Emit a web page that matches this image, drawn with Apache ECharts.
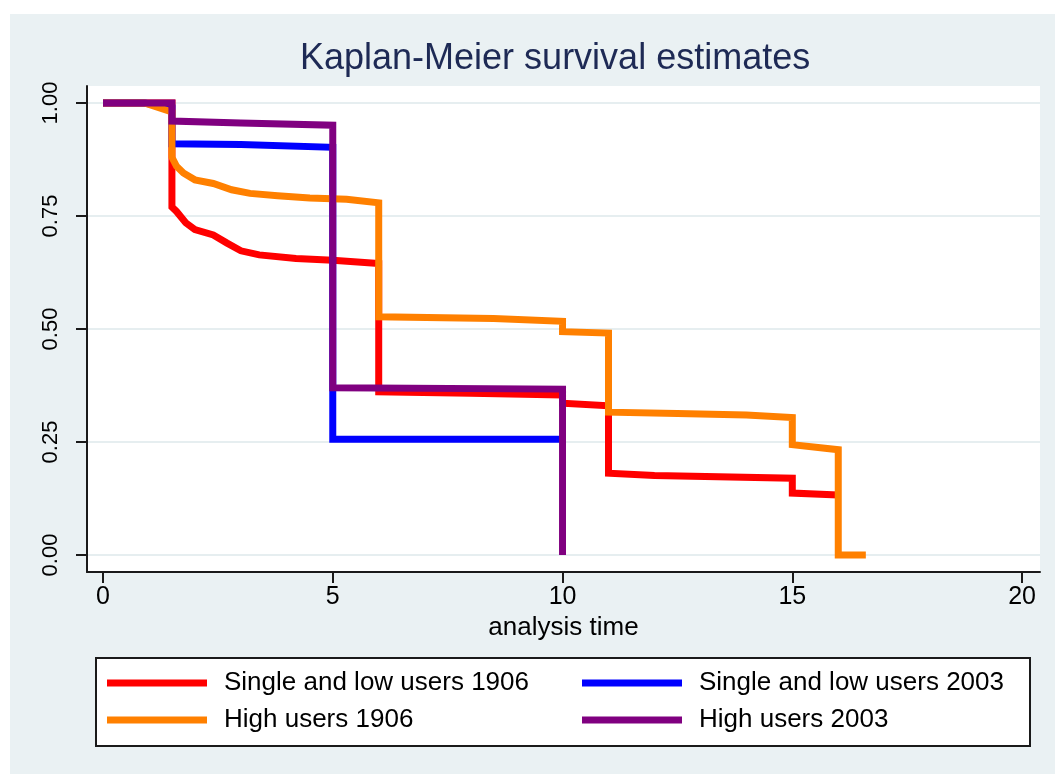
<!DOCTYPE html>
<html>
<head>
<meta charset="utf-8">
<script src="https://cdn.jsdelivr.net/npm/echarts@6/dist/echarts.min.js"></script>
<style>
html,body{margin:0;padding:0;background:#fff;}
#chart{width:1055px;height:774px;}
</style>
</head>
<body>
<div id="chart"></div>
<script>
const titleText = 'Kaplan-Meier survival estimates';
const xName = 'analysis time';
const xTicks = [0, 5, 10, 15, 20];
const yTicks = [0, 0.25, 0.5, 0.75, 1];
const seriesNames = ['Single and low users 1906', 'High users 1906', 'Single and low users 2003', 'High users 2003'];

// [time, survival] path points; a jump is two points at the same time
const singleLow1906 = [[0,1.0],[1.5,1.0],[1.5,0.77],[1.6,0.76],[1.8,0.735],[2.0,0.72],[2.4,0.708],[2.7,0.69],[3.0,0.673],[3.4,0.664],[4.2,0.656],[5.0,0.652],[6.0,0.645],[6.0,0.361],[8.0,0.358],[10.0,0.354],[10.0,0.336],[11.0,0.33],[11.0,0.181],[12.0,0.176],[15.0,0.17],[15.0,0.137],[16.0,0.133]];
const high1906 = [[0,1.0],[0.9,1.0],[1.5,0.98],[1.5,0.88],[1.6,0.86],[1.75,0.845],[2.0,0.83],[2.4,0.822],[2.8,0.808],[3.2,0.80],[3.8,0.795],[4.5,0.79],[5.3,0.787],[6.0,0.779],[6.0,0.527],[8.5,0.523],[10.0,0.517],[10.0,0.494],[11.0,0.491],[11.0,0.316],[12.5,0.313],[14.0,0.31],[15.0,0.304],[15.0,0.244],[16.0,0.233],[16.0,0.0],[16.6,0.0]];
const singleLow2003 = [[0,1.0],[0.9,1.0],[1.5,0.99],[1.5,0.91],[3.0,0.908],[5.0,0.902],[5.0,0.256],[10.0,0.256]];
const high2003 = [[0,1.0],[1.5,1.0],[1.5,0.96],[3.0,0.956],[5.0,0.951],[5.0,0.37],[10.0,0.367],[10.0,0.0]];

const colors = ['#FF0000', '#FF8000', '#0000FF', '#800080'];
const allData = [singleLow1906, high1906, singleLow2003, high2003];
const drawOrder = [0, 2, 1, 3];

const FONT = "'Liberation Sans', Arial, sans-serif";
const chart = echarts.init(document.getElementById('chart'), null, {renderer: 'canvas'});

const series = drawOrder.map((i, k) => ({
  name: seriesNames[i],
  type: 'line',
  data: allData[i],
  showSymbol: false,
  symbol: 'none',
  color: colors[i],
  lineStyle: {color: colors[i], width: 7, cap: 'butt', join: 'miter'},
  z: 2 + k,
  animation: false
}));

const legendPos = [
  {left: 107, top: 668},
  {left: 107, top: 705},
  {left: 582, top: 668},
  {left: 582, top: 705}
];
const legends = seriesNames.map((n, i) => ({
  data: [{name: n, icon: 'rect'}],
  left: legendPos[i].left,
  top: legendPos[i].top,
  padding: 0,
  itemWidth: 100,
  itemHeight: 7,
  selectedMode: false,
  textStyle: {fontFamily: FONT, fontSize: 26, color: '#000', lineHeight: 30, padding: [0, 0, 0, 12]}
}));

chart.setOption({
  backgroundColor: '#ffffff',
  animation: false,
  graphic: [
    {type: 'rect', z: -100, silent: true, shape: {x: 10, y: 14, width: 1045, height: 760}, style: {fill: '#EAF1F3'}},
    {type: 'rect', z: -50, silent: true, shape: {x: 96, y: 658, width: 934, height: 88}, style: {fill: '#ffffff', stroke: '#1a1a1a', lineWidth: 2}}
  ],
  title: {
    text: titleText,
    left: 300,
    top: 41,
    padding: 0,
    textStyle: {fontFamily: FONT, fontSize: 36, fontWeight: 'normal', color: '#1E2A55'}
  },
  legend: legends,
  grid: {
    left: 87, top: 86, right: 15, bottom: 202,
    show: true, backgroundColor: '#ffffff', borderWidth: 0,
    containLabel: false
  },
  xAxis: {
    type: 'value',
    min: -0.348,
    max: 20.39,
    name: xName,
    nameLocation: 'middle',
    nameGap: 43,
    nameTextStyle: {fontFamily: FONT, fontSize: 26, color: '#000'},
    axisLine: {show: true, onZero: false, lineStyle: {color: '#1a1a1a', width: 2}},
    axisTick: {show: true, length: 11, customValues: xTicks, lineStyle: {color: '#1a1a1a', width: 2}},
    axisLabel: {show: true, customValues: xTicks, margin: 13, fontFamily: FONT, fontSize: 25, color: '#000', formatter: v => String(v)},
    splitLine: {show: false}
  },
  yAxis: {
    type: 'value',
    min: -0.0376,
    max: 1.0376,
    axisLine: {show: true, onZero: false, lineStyle: {color: '#1a1a1a', width: 2}},
    axisTick: {show: true, length: 11, customValues: yTicks, lineStyle: {color: '#1a1a1a', width: 2}},
    axisLabel: {show: true, customValues: yTicks, rotate: 90, margin: 25, fontFamily: FONT, fontSize: 22, color: '#000', formatter: v => v.toFixed(2)},
    splitLine: {show: true, lineStyle: {color: '#E6EEF0', width: 2}}
  },
  series: series
});
</script>
</body>
</html>
